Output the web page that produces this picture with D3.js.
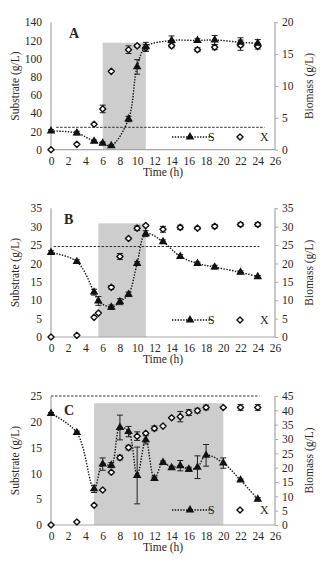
<!DOCTYPE html>
<html>
<head>
<meta charset="utf-8">
<script src="https://cdn.jsdelivr.net/npm/d3@7"></script>
<style>
  body { margin: 0; background: #fff; }
  svg text { font-family: 'Liberation Serif', 'Times New Roman', serif; fill: #262626; }
</style>
</head>
<body>
<div id="chart"></div>
<script>
// ---- data ----
const timeTicks = [0, 2, 4, 6, 8, 10, 12, 14, 16, 18, 20, 22, 24, 26];

// Panel A
const timeA = [0, 3, 5, 6, 7, 9, 10, 11, 14, 17, 19, 22, 24];
const substrateA = [20.5, 18.3, 9.2, 7, 4.4, 33.7, 91, 113, 120, 120, 120.6, 118, 117];
const substrateErrA = [1.5, 2, 1.5, 1.5, 1, 3, 8, 5, 5, 2, 5, 5, 4];
const biomassA = [0, 0.84, 4.0, 6.4, 12.3, 15.7, 16.3, 16.0, 16.3, 15.7, 16.1, 16.4, 16.2];
const biomassErrA = [0, 0, 0, 0.6, 0, 0.6, 0.2, 0.5, 0.3, 0.3, 0.4, 0.8, 0.4];
const ticksLeftA = [0, 20, 40, 60, 80, 100, 120, 140];
const ticksRightA = [0, 5, 10, 15, 20];
const shadeA = [6, 11, 117.6];
const dashA = [0.6, 24.8, 24.6];

// Panel B
const timeB = [0, 3, 5, 5.5, 7, 8, 9, 10, 11, 13, 15, 17, 19, 22, 24];
const substrateB = [23.0, 20.5, 12.2, 9.8, 8.1, 9.6, 11.6, 20.0, 28.1, 25.9, 21.9, 20.0, 19.0, 17.6, 16.4];
const substrateErrB = [0.5, 0.5, 0.8, 1.2, 0.6, 0.8, 0.6, 0.5, 0.8, 0.5, 0.5, 0.4, 0.5, 0.4, 0.3];
const biomassB = [0, 0.45, 5.35, 6.5, 13.5, 21.9, 26.8, 29.6, 30.3, 29.3, 29.8, 29.6, 30.1, 30.6, 30.6];
const biomassErrB = [0, 0, 0, 0, 0.5, 0.8, 0, 0.6, 0.2, 0.8, 0.6, 0.3, 0.5, 0.5, 0.5];
const ticksLeftB = [0, 5, 10, 15, 20, 25, 30, 35];
const ticksRightB = [0, 5, 10, 15, 20, 25, 30, 35];
const shadeB = [5.5, 11, 30.9];
const dashB = [0.3, 24.2, 24.6];

// Panel C
const timeC = [0, 3, 5, 6, 7, 8, 9, 10, 11, 12, 13, 14, 15, 16, 17, 18, 20, 22, 24];
const substrateC = [21.6, 17.9, 7.0, 11.8, 11.6, 18.9, 18.1, 9.6, 16.5, 9.0, 12.1, 11.1, 11.5, 10.8, 11.2, 13.5, 12.0, 8.7, 5.0];
const substrateErrC = [0.2, 0.3, 0.7, 1.2, 0.5, 2.4, 1.0, 5.5, 0.8, 0.3, 0.3, 0.3, 1.0, 0.4, 2.2, 2.1, 1.0, 0.2, 0.3];
const biomassC = [0, 1.05, 6.9, 12.2, 18.4, 23.5, 27.0, 31.0, 32.0, 33.7, 34.5, 37.4, 37.8, 39.2, 39.9, 41.0, 41.0, 41.0, 41.0];
const biomassErrC = [0, 0, 0, 0, 0, 0.8, 0.8, 1.5, 0, 0.8, 0, 0, 1.8, 1.0, 0.8, 0.8, 0, 1.0, 1.0];
const ticksLeftC = [0, 5, 10, 15, 20, 25];
const ticksRightC = [0, 5, 10, 15, 20, 25, 30, 35, 40, 45];
const shadeC = [5, 20, 23.6];
const dashC = [0, 24.2, 25];

const W = 322, H = 566;
const svg = d3.select('#chart').append('svg')
    .attr('width', W).attr('height', H)
    .attr('viewBox', `0 0 ${W} ${H}`);

const axisColor = '#a6a6a6';

function drawPanel(p) {
    const g = svg.append('g');
    const x = d3.scaleLinear().domain([0, 26]).range([51, 275]);
    const yL = d3.scaleLinear().domain([0, d3.max(p.ticksLeft)]).range([p.bottom, p.top]);
    const yR = d3.scaleLinear().domain([0, d3.max(p.ticksRight)]).range([p.bottom, p.top]);

    // shaded feeding window
    g.append('rect')
        .attr('x', x(p.shade[0]))
        .attr('y', yL(p.shade[2]))
        .attr('width', x(p.shade[1]) - x(p.shade[0]))
        .attr('height', yL(0) - yL(p.shade[2]))
        .attr('fill', '#cdcdcd');

    // dashed reference line
    g.append('line')
        .attr('x1', x(p.dash[0])).attr('x2', x(p.dash[1]))
        .attr('y1', yL(p.dash[2])).attr('y2', yL(p.dash[2]))
        .attr('stroke', '#333').attr('stroke-width', 1)
        .attr('stroke-dasharray', '2.5,1.5');

    // axes
    const left = g.append('g').attr('transform', `translate(${x(0)},0)`)
        .call(d3.axisLeft(yL).tickValues(p.ticksLeft).tickSize(0).tickPadding(9));
    const bottom = g.append('g').attr('transform', `translate(0,${p.bottom})`)
        .call(d3.axisBottom(x).tickValues(timeTicks).tickSize(0).tickPadding(7));
    const right = g.append('g').attr('transform', `translate(${x(26)},0)`)
        .call(d3.axisRight(yR).tickValues(p.ticksRight).tickSize(3).tickPadding(4));
    [left, bottom, right].forEach(a => {
        a.select('.domain').attr('stroke', axisColor).attr('stroke-width', 1.2);
        a.selectAll('.tick line').attr('stroke', axisColor);
        a.selectAll('.tick text').attr('font-size', 11.5).style('font-family', "'Liberation Serif', serif");
    });
    bottom.select('.domain').attr('d', `M${x(0)},0H${x(26)}`);
    left.select('.domain').attr('d', `M0,${p.bottom}V${p.top}`);
    right.select('.domain').attr('d', `M0,${p.bottom}V${p.top}`);

    // axis titles
    g.append('text').attr('transform', `translate(15,${(p.top + p.bottom) / 2}) rotate(-90)`)
        .attr('text-anchor', 'middle').attr('dy', '0.35em').attr('font-size', 11.5)
        .text('Substrate (g/L)');
    g.append('text').attr('transform', `translate(309,${(p.top + p.bottom) / 2}) rotate(-90)`)
        .attr('text-anchor', 'middle').attr('dy', '0.35em').attr('font-size', 11.5)
        .text('Biomass (g/L)');
    g.append('text').attr('x', 163).attr('y', p.bottom + 26)
        .attr('text-anchor', 'middle').attr('font-size', 11.5)
        .text('Time (h)');
    g.append('text').attr('x', p.labelX).attr('y', p.labelY)
        .attr('font-size', 14).attr('font-weight', 'bold')
        .text(p.label);

    const S = p.time.map((t, i) => ({ t, v: p.substrate[i], e: p.substrateErr[i] }));
    const X = p.time.map((t, i) => ({ t, v: p.biomass[i], e: p.biomassErr[i] }));

    // substrate line
    const line = d3.line()
        .x(d => x(d.t)).y(d => yL(d.v))
        .curve(d3.curveCatmullRom.alpha(0.5));
    g.append('path').datum(S)
        .attr('fill', 'none').attr('stroke', '#111')
        .attr('stroke-width', 1.4).attr('stroke-dasharray', '1.4,1.4')
        .attr('d', line);

    // error bars
    function errBars(data, y, cls) {
        const eb = g.append('g').classed(cls, true)
            .selectAll('g').data(data.filter(d => d.e > 0)).enter().append('g')
            .attr('stroke', '#222').attr('stroke-width', 1);
        eb.append('line').attr('x1', d => x(d.t)).attr('x2', d => x(d.t))
            .attr('y1', d => y(d.v - d.e)).attr('y2', d => y(d.v + d.e));
        eb.append('line').attr('x1', d => x(d.t) - 3).attr('x2', d => x(d.t) + 3)
            .attr('y1', d => y(d.v - d.e)).attr('y2', d => y(d.v - d.e));
        eb.append('line').attr('x1', d => x(d.t) - 3).attr('x2', d => x(d.t) + 3)
            .attr('y1', d => y(d.v + d.e)).attr('y2', d => y(d.v + d.e));
    }
    errBars(X, yR, 'x-err');
    errBars(S, yL, 's-err');

    const diamond = d3.symbol().type(d3.symbolDiamond2).size(24);
    const tri = d3.symbol().type(d3.symbolTriangle).size(32);

    g.append('g').selectAll('path').data(X).enter().append('path')
        .attr('transform', d => `translate(${x(d.t)},${yR(d.v)})`)
        .attr('d', diamond)
        .attr('fill', '#fff').attr('stroke', '#111').attr('stroke-width', 1.4)
        .attr('stroke-linejoin', 'round');

    g.append('g').selectAll('path').data(S).enter().append('path')
        .attr('transform', d => `translate(${x(d.t)},${yL(d.v)})`)
        .attr('d', tri)
        .attr('fill', '#111');

    // legend
    const ly = p.legendY;
    g.append('line').attr('x1', 172).attr('x2', 212).attr('y1', ly).attr('y2', ly)
        .attr('stroke', '#111').attr('stroke-width', 1.4).attr('stroke-dasharray', '1.4,1.4');
    g.append('path').attr('transform', `translate(190,${ly})`).attr('d', tri).attr('fill', '#111');
    g.append('text').attr('x', 208).attr('y', ly).attr('dy', '0.35em').attr('font-size', 12).text('S');
    g.append('path').attr('transform', `translate(240,${ly})`).attr('d', diamond)
        .attr('fill', '#fff').attr('stroke', '#111').attr('stroke-width', 1.4)
        .attr('stroke-linejoin', 'round');
    g.append('text').attr('x', 260).attr('y', ly).attr('dy', '0.35em').attr('font-size', 12).text('X');
}

drawPanel({
    top: 22.3, bottom: 149.7, label: 'A', labelX: 69, labelY: 38,
    time: timeA, substrate: substrateA, substrateErr: substrateErrA,
    biomass: biomassA, biomassErr: biomassErrA,
    ticksLeft: ticksLeftA, ticksRight: ticksRightA,
    shade: shadeA, dash: dashA, legendY: 137
});
drawPanel({
    top: 208.3, bottom: 337, label: 'B', labelX: 64, labelY: 224,
    time: timeB, substrate: substrateB, substrateErr: substrateErrB,
    biomass: biomassB, biomassErr: biomassErrB,
    ticksLeft: ticksLeftB, ticksRight: ticksRightB,
    shade: shadeB, dash: dashB, legendY: 320
});
drawPanel({
    top: 396, bottom: 525, label: 'C', labelX: 64, labelY: 415,
    time: timeC, substrate: substrateC, substrateErr: substrateErrC,
    biomass: biomassC, biomassErr: biomassErrC,
    ticksLeft: ticksLeftC, ticksRight: ticksRightC,
    shade: shadeC, dash: dashC, legendY: 510
});
</script>
</body>
</html>
